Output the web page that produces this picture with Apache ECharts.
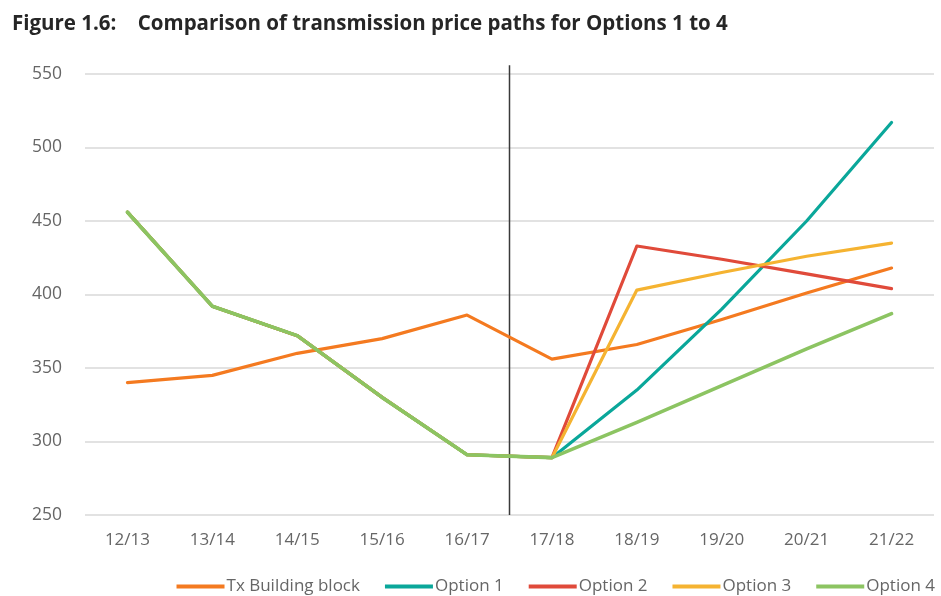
<!DOCTYPE html>
<html>
<head>
<meta charset="utf-8">
<script src="https://cdn.jsdelivr.net/npm/echarts@6/dist/echarts.min.js"></script>
<style>
  html, body { margin: 0; padding: 0; background: #ffffff; }
  #chart { width: 941px; height: 596px; }
</style>
</head>
<body>
<div id="chart"></div>
<script>
// Financial years on the category axis
const years = ['12/13', '13/14', '14/15', '15/16', '16/17', '17/18', '18/19', '19/20', '20/21', '21/22'];

// Price paths ($) per year
const txBuildingBlock = [340, 345, 360, 370, 386, 356, 366, 383, 401, 418];
const option1 = [456, 392, 372, 330, 291, 289, 335, 390, 450, 517];
const option2 = [456, 392, 372, 330, 291, 289, 433, 424, 414, 404];
const option3 = [456, 392, 372, 330, 291, 289, 403, 415, 426, 435];
const option4 = [456, 392, 372, 330, 291, 289, 313, 338, 363, 387];

// Divider between actual and forecast years (position on a 0..9 index scale)
const dividerAt = 4.5;
const dividerRange = [250, 556];

// Value-axis ticks
const yTicks = [250, 300, 350, 400, 450, 500, 550];

const seriesNames = ['Tx Building block', 'Option 1', 'Option 2', 'Option 3', 'Option 4'];
const seriesColors = ['#F47A20', '#0AA79A', '#E04A3A', '#F5B331', '#8CC462'];
const seriesData = [txBuildingBlock, option1, option2, option3, option4];

const labelFont = '"Open Sans", sans-serif';

const chart = echarts.init(document.getElementById('chart'));

const lineSeries = seriesNames.map((name, i) => ({
  name: name,
  type: 'line',
  data: seriesData[i],
  symbol: 'none',
  z: 2 + i,
  lineStyle: { color: seriesColors[i], width: 3.2, cap: 'round', join: 'round' },
  itemStyle: { color: seriesColors[i] },
  animation: false
}));

// Option 4 paints over the shared history
const ordered = [lineSeries[1], lineSeries[2], lineSeries[3], lineSeries[4], lineSeries[0]];
// The shared history looks heavier where the option paths overlap
lineSeries[4].lineStyle.width = 3.6;

chart.setOption({
  animation: false,
  backgroundColor: '#ffffff',
  title: {
    text: 'Figure 1.6:    Comparison of transmission price paths for Options 1 to 4',
    left: 7,
    top: 9,
    textStyle: {
      fontFamily: labelFont,
      fontSize: 20.5,
      fontWeight: 'bold',
      color: '#262626'
    }
  },
  legend: {
    data: seriesNames.map((n, i) => ({ name: n, icon: 'rect', itemStyle: { color: seriesColors[i] } })),
    right: 1,
    top: 573,
    itemWidth: 48,
    itemHeight: 4,
    itemGap: 25,
    textStyle: { fontFamily: labelFont, fontSize: 17, color: '#666666', padding: [0, 0, 0, -3] }
  },
  grid: { left: 85, right: 7, top: 74, bottom: 81 },
  xAxis: [
    {
      type: 'category',
      data: years,
      boundaryGap: true,
      axisLine: { show: false },
      axisTick: { show: false },
      axisLabel: { fontFamily: labelFont, fontSize: 17, color: '#666666', margin: 17 }
    },
    {
      type: 'value',
      min: -0.5,
      max: 9.5,
      show: false
    }
  ],
  yAxis: {
    type: 'value',
    min: yTicks[0],
    max: yTicks[yTicks.length - 1],
    interval: 50,
    axisLine: { show: false },
    axisTick: { show: false },
    axisLabel: { fontFamily: labelFont, fontSize: 17.5, color: '#666666', margin: 23 },
    splitLine: { lineStyle: { color: '#d9d9d9', width: 1.5 } }
  },
  series: [
    {
      name: 'divider',
      type: 'line',
      xAxisIndex: 1,
      data: [[dividerAt, dividerRange[0]], [dividerAt, dividerRange[1]]],
      symbol: 'none',
      clip: false,
      silent: true,
      z: 1,
      lineStyle: { color: '#3a3a3a', width: 1.5 }
    }
  ].concat(ordered)
});
</script>
</body>
</html>
